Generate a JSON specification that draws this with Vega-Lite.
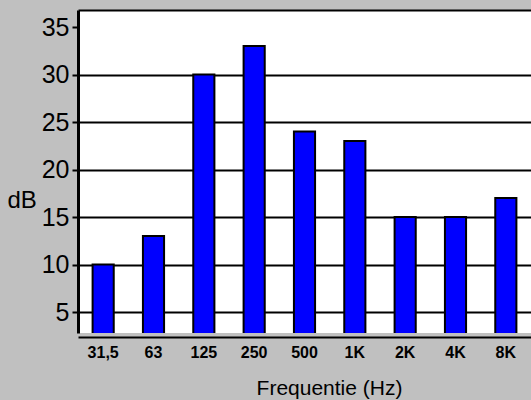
{
  "$schema": "https://vega.github.io/schema/vega-lite/v6.json",
  "autosize": "none",
  "width": 453,
  "height": 323,
  "padding": {"left": 78, "top": 10, "right": 0, "bottom": 67},
  "background": "#c0c0c0",
  "config": {
    "view": {"fill": "white", "stroke": null},
    "font": "Liberation Sans"
  },
  "data": {
    "values": [
      {"freq": "31,5", "dB": 10},
      {"freq": "63", "dB": 13},
      {"freq": "125", "dB": 30},
      {"freq": "250", "dB": 33},
      {"freq": "500", "dB": 24},
      {"freq": "1K", "dB": 23},
      {"freq": "2K", "dB": 15},
      {"freq": "4K", "dB": 15},
      {"freq": "8K", "dB": 17}
    ]
  },
  "mark": {"type": "bar", "fill": "#0000ff", "stroke": "black", "strokeWidth": 2, "clip": true},
  "encoding": {
    "x": {
      "field": "freq",
      "type": "nominal",
      "sort": null,
      "scale": {"paddingInner": 0.58, "paddingOuter": 0.29},
      "axis": {
        "title": "Frequentie (Hz)",
        "titleFont": "Liberation Sans",
        "titleFontSize": 21,
        "titleFontWeight": "normal",
        "titleColor": "black",
        "titleAnchor": "start",
        "titleAlign": "center",
        "titleBaseline": "alphabetic",
        "titleX": 251,
        "titleY": 57,
        "labelAngle": 0,
        "labelFontSize": 16,
        "labelFontWeight": "bold",
        "labelColor": "black",
        "labelPadding": 7,
        "ticks": false,
        "domainColor": "black",
        "domainWidth": 2,
        "offset": 4
      }
    },
    "y": {
      "field": "dB",
      "type": "quantitative",
      "scale": {"domain": [2.8, 36.8], "zero": false, "nice": false},
      "axis": {
        "title": "dB",
        "titleFont": "Liberation Sans",
        "titleAngle": 0,
        "titleFontSize": 24,
        "titleFontWeight": "normal",
        "titleColor": "black",
        "titleAlign": "left",
        "titleBaseline": "alphabetic",
        "titleAnchor": "start",
        "titleX": -71,
        "titleY": 197,
        "values": [5, 10, 15, 20, 25, 30, 35, 36.8],
        "labelOverlap": false,
        "labelFont": "Liberation Sans",
        "labelFontSize": 25,
        "labelColor": "black",
        "labelPadding": 3,
        "labelOpacity": {"condition": {"test": "datum.value > 36", "value": 0}, "value": 1},
        "tickOpacity": {"condition": {"test": "datum.value > 36", "value": 0}, "value": 1},
        "tickColor": "black",
        "tickWidth": 2,
        "tickSize": 6,
        "grid": true,
        "gridColor": "black",
        "gridWidth": 2,
        "gridOpacity": {"condition": {"test": "datum.value == 35", "value": 0}, "value": 1},
        "domainColor": "black",
        "domainWidth": 3
      }
    }
  }
}
